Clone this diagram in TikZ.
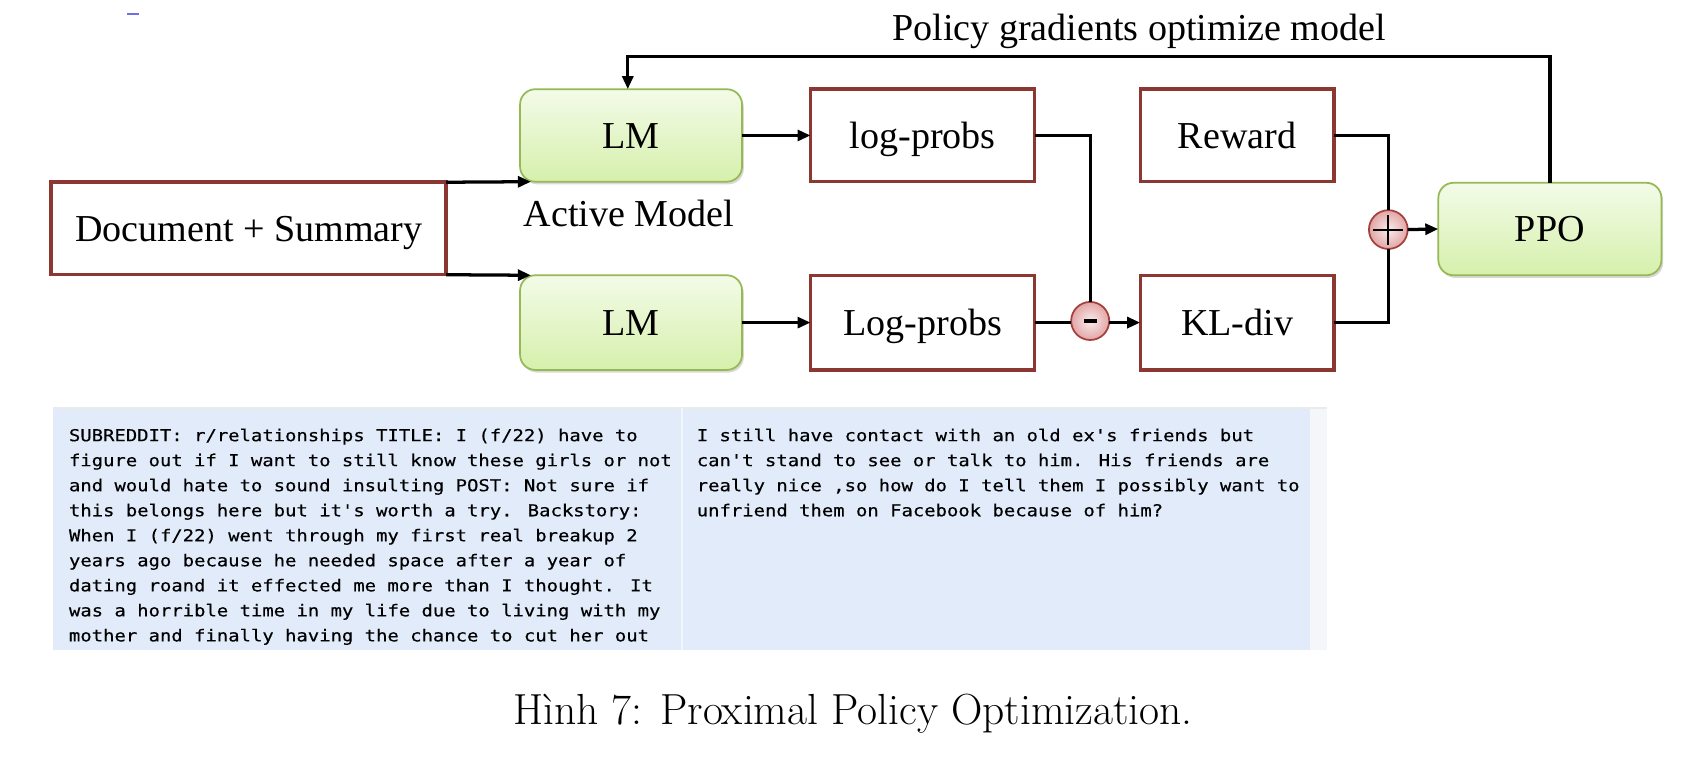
\documentclass[tikz,border=0pt]{standalone}
\usepackage{fontspec}
\newfontfamily\tnr{Liberation Serif}
\newfontfamily\mono{DejaVu Sans Mono}[FakeStretch=1.15,FakeBold=0.4,Ligatures=TeXOff]
\usetikzlibrary{arrows.meta,shadows}
\definecolor{boxred}{RGB}{140,55,50}
\definecolor{gborder}{RGB}{150,185,85}
\definecolor{gtop}{RGB}{243,251,232}
\definecolor{gbot}{RGB}{214,240,172}
\definecolor{cin}{RGB}{250,236,236}
\definecolor{cout}{RGB}{226,165,165}
\definecolor{cborder}{RGB}{165,65,60}
\definecolor{panel}{RGB}{225,235,250}
\definecolor{panelgray}{RGB}{244,246,249}
\definecolor{dashblue}{RGB}{110,110,235}
\begin{document}
\begin{tikzpicture}[x=0.5pt,y=-0.5pt,
  lbl/.style={font=\tnr\fontsize{17.5}{20}\selectfont, text height=11.6pt, text depth=0pt},
  redbox/.style={lbl, draw=boxred, line width=1.6pt, fill=white, inner sep=0pt, outer sep=0pt, minimum height=42.5pt},
  greenbox/.style={lbl, draw=gborder, line width=0.8pt, rounded corners=7pt, top color=gtop, bottom color=gbot, inner sep=0pt, outer sep=0pt, minimum height=42.5pt, minimum width=102pt,
     drop shadow={shadow xshift=0.8pt, shadow yshift=-1.2pt, opacity=0.25, fill=black!60}},
  opnode/.style={circle, draw=cborder, line width=0.8pt, inner color=cin, outer color=cout, inner sep=0pt, outer sep=0pt},
  conn/.style={line width=1.5pt, black},
  arr/.style={conn, -{Triangle[length=6pt,width=5pt]}},
  mtext/.style={font=\mono\fontsize{7.55}{11.5}\selectfont, anchor=base west, inner sep=0pt},
]
\useasboundingbox (0,0) rectangle (1568,695);
\fill[white] (0,0) rectangle (1568,695);

% stray dash
\draw[dashblue, line width=0.6pt] (117,13) -- (128,13);

% nodes
\node[redbox, minimum width=181.5pt] (doc) at (228.5,210) {Document + Summary};
\node[greenbox] (lm1) at (580,124.5) {LM};
\node[greenbox, minimum height=43.5pt] (lm2) at (580,296.5) {LM};
\node[lbl, anchor=base, inner sep=0pt, text height=] (act) at (578,208) {Active Model};
\node[redbox, minimum width=103pt] (lp1) at (848,124.5) {log-probs};
\node[redbox, minimum width=103pt, minimum height=43.5pt] (lp2) at (848,296.5) {Log-probs};
\node[redbox, minimum width=89pt] (rew) at (1137,124.5) {Reward};
\node[redbox, minimum width=89pt, minimum height=43.5pt] (kl) at (1137,296.5) {KL-div};
\node[greenbox, minimum width=102.5pt] (ppo) at (1424.5,210.5) {PPO};
\node[opnode, minimum size=17.5pt] (minus) at (1002,295) {\rule[-0.95pt]{5.8pt}{1.9pt}};
\node[opnode, minimum size=17.8pt] (plus) at (1276,211) {};
\draw[line width=0.9pt] ([xshift=-6.9pt]plus.center) -- ([xshift=6.9pt]plus.center);
\draw[line width=0.9pt] ([yshift=-6.9pt]plus.center) -- ([yshift=6.9pt]plus.center);

\node[lbl, anchor=base, inner sep=0pt] (title) at (1047,37.5) {Policy gradients optimize model};
\coordinate (fb) at (0,52);

% connectors
\draw[arr] (doc.north east) -- ([xshift=5pt]lm1.south west);
\draw[arr] (doc.south east) -- ([xshift=5pt]lm2.north west);
\draw[arr] (lm1.east) -- (lp1.west);
\draw[arr] (lm2.east) -- (lp2.west);
\draw[conn] (lp1.east) -| (minus.north);
\draw[conn] (lp2.east) -- (lp2.east -| minus.west);
\draw[arr] (lp2.east -| minus.east) -- (kl.west);
\draw[conn] (rew.east) -| (plus.north);
\draw[conn] (kl.east) -| (plus.south);
\draw[arr] (plus.east) -- (ppo.west);
\draw[arr] (ppo.north) -- (ppo.north |- fb) -| ([xshift=-1.5pt]lm1.north);

% text panel
\fill[panel] (49,375) rectangle (1204,597);
\fill[panelgray] (1204,375) rectangle (1220,597);
\draw[black!8, line width=0.6pt] (49,375) -- (1220,375);
\draw[white!55!panel, line width=0.8pt] (627,375) -- (627,597);

\node[mtext] (l1) at (63,405.5) {SUBREDDIT: r/relationships TITLE: I (f/22) have to};
\node[mtext] (l2) at (63,428.5) {figure out if I want to still know these girls or not};
\node[mtext] (l3) at (63,451.5) {and would hate to sound insulting POST: Not sure if};
\node[mtext] (l4) at (63,474.5) {this belongs here but it's worth a try. Backstory:};
\node[mtext] (l5) at (63,497.5) {When I (f/22) went through my first real breakup 2};
\node[mtext] (l6) at (63,520.5) {years ago because he needed space after a year of};
\node[mtext] (l7) at (63,543.5) {dating roand it effected me more than I thought. It};
\node[mtext] (l8) at (63,566.5) {was a horrible time in my life due to living with my};
\node[mtext] (l9) at (63,589.5) {mother and finally having the chance to cut her out};

\node[mtext] (r1) at (640,405.5) {I still have contact with an old ex's friends but};
\node[mtext] (r2) at (640,428.5) {can't stand to see or talk to him. His friends are};
\node[mtext] (r3) at (640,451.5) {really nice ,so how do I tell them I possibly want to};
\node[mtext] (r4) at (640,474.5) {unfriend them on Facebook because of him?};

% caption
\node[font=\fontsize{20}{24}\selectfont, anchor=base, inner sep=0pt] (cap) at (784,666) {Hình 7: Proximal Policy Optimization.};
\end{tikzpicture}
\end{document}
